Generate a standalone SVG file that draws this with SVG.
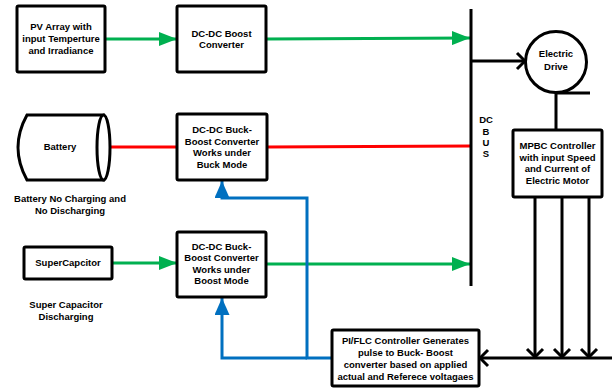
<svg xmlns="http://www.w3.org/2000/svg" width="613" height="388" viewBox="0 0 613 388">
<style>
.box{fill:#fff;stroke:#000;stroke-width:3}
.t{font-family:"Liberation Sans",Arial,sans-serif;font-weight:bold;font-size:9.5px;text-anchor:middle;fill:#000}
.g{stroke:#00B050;stroke-width:3;fill:none}
.r{stroke:#FF0000;stroke-width:3;fill:none}
.b{stroke:#0070C0;stroke-width:3;fill:none}
.k{stroke:#000;stroke-width:3;fill:none}
</style>
<defs>
<marker id="ga" markerUnits="userSpaceOnUse" markerWidth="18" markerHeight="14" refX="18" refY="7" orient="auto"><path d="M0,0 L18,7 L0,14 Z" fill="#00B050"/></marker>
<marker id="ba" markerUnits="userSpaceOnUse" markerWidth="17" markerHeight="15" refX="17" refY="7.5" orient="auto"><path d="M0,0 L17,7.5 L0,15 Z" fill="#0070C0"/></marker>
<marker id="ka" markerUnits="userSpaceOnUse" markerWidth="12" markerHeight="20" refX="10" refY="10" orient="auto"><path d="M2,2 L10,10 L2,18" fill="none" stroke="#000" stroke-width="3"/></marker>
</defs>
<g id="connectors">
<line class="g" x1="105" y1="39" x2="177" y2="39" marker-end="url(#ga)"/>
<line class="g" x1="266" y1="39" x2="470" y2="38" marker-end="url(#ga)"/>
<line class="r" x1="110" y1="147" x2="177" y2="147"/>
<line class="r" x1="267" y1="147" x2="471" y2="146"/>
<line class="g" x1="112" y1="263" x2="177" y2="263" marker-end="url(#ga)"/>
<line class="g" x1="266" y1="264" x2="470" y2="264" marker-end="url(#ga)"/>
<path class="b" d="M332,358 L307,358 L307,198 L222,198 L222,181" marker-end="url(#ba)"/>
<path class="b" d="M307,358 L222,358 L222,298" marker-end="url(#ba)"/>
<line class="k" x1="471" y1="61" x2="525" y2="61" marker-end="url(#ka)"/>
<path class="k" d="M590,93 L556,93 L556,130"/>
<line class="k" x1="535" y1="197" x2="535" y2="357" marker-end="url(#ka)"/>
<line class="k" x1="562" y1="197" x2="562" y2="357" marker-end="url(#ka)"/>
<line class="k" x1="589" y1="197" x2="589" y2="357" marker-end="url(#ka)"/>
<line class="k" x1="612" y1="358" x2="480" y2="358" marker-end="url(#ka)"/>
</g>
<g id="dcbus">
<line x1="471" y1="9" x2="471" y2="286" stroke="#000" stroke-width="3"/>
<text class="t" x="486" y="123">DC</text>
<text class="t" x="486" y="135">B</text>
<text class="t" x="486" y="146">U</text>
<text class="t" x="486" y="157">S</text>
</g>
<g id="pv">
<rect class="box" x="17" y="6" width="88" height="66" rx="1.5"/>
<text class="t" x="61" y="30">PV Array with</text>
<text class="t" x="61" y="42">input Temperture</text>
<text class="t" x="61" y="54">and Irradiance</text>
</g>
<g id="boost">
<rect class="box" x="177" y="6" width="89" height="66" rx="1.5"/>
<text class="t" x="221.5" y="37">DC-DC Boost</text>
<text class="t" x="221.5" y="48">Converter</text>
</g>
<g id="drive">
<circle cx="556" cy="62" r="30.5" fill="#fff" stroke="#000" stroke-width="3"/>
<text class="t" x="556" y="57">Electric</text>
<text class="t" x="556" y="70">Drive</text>
</g>
<g id="battery">
<path d="M27,115 L103.5,115 L103.5,180 L27,180 Q9,147.5 27,115 Z" fill="#fff" stroke="#000" stroke-width="3"/>
<ellipse cx="103.5" cy="147.5" rx="6.5" ry="32.5" fill="#fff" stroke="#000" stroke-width="3"/>
<text class="t" x="60" y="150">Battery</text>
</g>
<g id="battery-label">
<text class="t" x="70" y="202">Battery No Charging and</text>
<text class="t" x="70" y="214">No Discharging</text>
</g>
<g id="buck">
<rect class="box" x="177" y="114" width="90" height="66" rx="1.5"/>
<text class="t" x="222" y="133">DC-DC Buck-</text>
<text class="t" x="222" y="145">Boost Converter</text>
<text class="t" x="222" y="156">Works under</text>
<text class="t" x="222" y="168">Buck Mode</text>
</g>
<g id="supercap">
<rect class="box" x="24" y="247" width="88" height="32" rx="1.5"/>
<text class="t" x="68" y="266">SuperCapcitor</text>
</g>
<g id="supercap-label">
<text class="t" x="66" y="308">Super Capacitor</text>
<text class="t" x="66" y="320">Discharging</text>
</g>
<g id="boostmode">
<rect class="box" x="177" y="232" width="89" height="65" rx="1.5"/>
<text class="t" x="221.5" y="250">DC-DC Buck-</text>
<text class="t" x="221.5" y="261">Boost Converter</text>
<text class="t" x="221.5" y="273">Works under</text>
<text class="t" x="221.5" y="284">Boost Mode</text>
</g>
<g id="mpbc">
<rect class="box" x="513" y="130" width="89" height="67" rx="1.5"/>
<text class="t" x="557.5" y="149">MPBC Controller</text>
<text class="t" x="557.5" y="161">with input Speed</text>
<text class="t" x="557.5" y="172">and Current of</text>
<text class="t" x="557.5" y="184">Electric Motor</text>
</g>
<g id="piflc">
<rect class="box" x="332" y="330" width="147" height="56" rx="1.5"/>
<text class="t" x="405.5" y="344">PI/FLC Controller Generates</text>
<text class="t" x="405.5" y="356">pulse to Buck- Boost</text>
<text class="t" x="405.5" y="368">converter based on applied</text>
<text class="t" x="405.5" y="380">actual and Referece voltagaes</text>
</g>
</svg>
